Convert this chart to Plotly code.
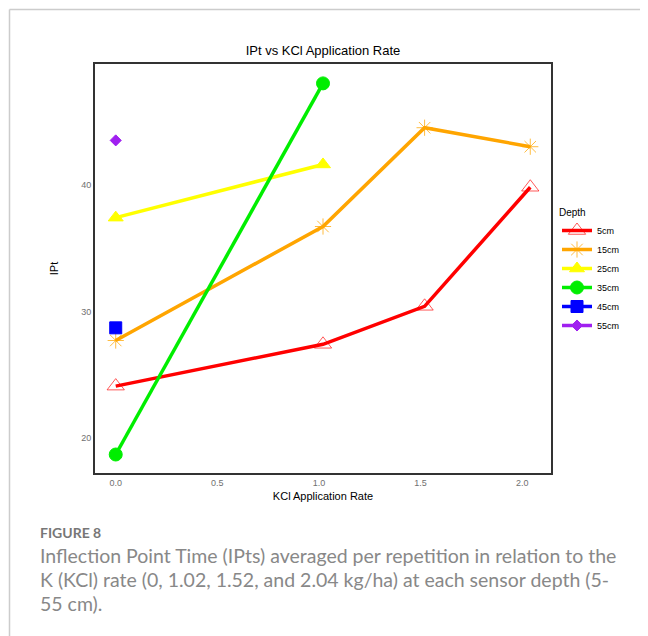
import plotly.graph_objects as go

# ---- data ----
depths = ["5cm", "15cm", "25cm", "35cm", "45cm", "55cm"]
x_5 = [0.0, 1.02, 1.52, 2.04]
y_5 = [24.1, 27.4, 30.4, 39.8]
x_15 = [0.0, 1.02, 1.52, 2.04]
y_15 = [27.7, 36.7, 44.5, 43.0]
x_25 = [0.0, 1.02]
y_25 = [37.4, 41.6]
x_35 = [0.0, 1.02]
y_35 = [18.7, 48.0]
x_45 = [0.0]
y_45 = [28.7]
x_55 = [0.0]
y_55 = [43.5]

xs = [x_5, x_15, x_25, x_35, x_45, x_55]
ys = [y_5, y_15, y_25, y_35, y_45, y_55]
colors = ["#FF0000", "#FFA500", "#FFFF00", "#00EE00", "#0000FF", "#A020F0"]
mcolors = ["rgba(255,0,0,0.65)", "rgba(255,165,0,0.75)", "#FFFF00", "#00EE00", "#0000FF", "#A020F0"]
symbols = ["triangle-up-open", "asterisk-open", "triangle-up", "circle", "square", "diamond"]
msizes = [15, 13.5, 13, 13, 12, 8.5]

caption_lines = [
    "Inflection Point Time (IPts) averaged per repetition in relation to the",
    "K (KCl) rate (0, 1.02, 1.52, and 2.04 kg/ha) at each sensor depth (5-",
    "55 cm).",
]

# layout geometry (the page body adds an 8px offset)
W, H = 640, 628
L, R, T, B = 87, 97, 56, 163
PW, PH = W - L - R, H - T - B


def px(x):
    return (x - 8 - L) / PW


def py(y):
    return (H - B - (y - 8)) / PH


fig = go.Figure()
for d, x, y, c, mc, s, ms in zip(depths, xs, ys, colors, mcolors, symbols, msizes):
    fig.add_trace(go.Scatter(
        x=x, y=y, name=d, mode="lines+markers",
        line=dict(color=c, width=3.5),
        marker=dict(symbol=s, size=ms, color=mc,
                    line=dict(color=mc, width=1)),
    ))

fig.update_layout(
    width=W, height=H,
    margin=dict(l=L, r=R, t=T, b=B),
    paper_bgcolor="white", plot_bgcolor="white",
    font=dict(family="Liberation Sans, Arial", color="#000"),
    title=dict(text="IPt vs KCl Application Rate", x=0.5, xanchor="center",
               xref="paper", y=1 - 42 / H, yanchor="middle",
               font=dict(size=13, color="#000")),
    showlegend=True,
    legend=dict(title=dict(text="Depth", font=dict(size=10)),
                x=px(557), xanchor="left", y=py(203), yanchor="top",
                font=dict(size=9), itemsizing="trace", itemwidth=30,
                bgcolor="rgba(0,0,0,0)", tracegroupgap=0),
)
fig.update_xaxes(range=[-0.102, 2.142], tickvals=[0, 0.5, 1, 1.5, 2],
                 ticktext=["0.0", "0.5", "1.0", "1.5", "2.0"],
                 showgrid=False, zeroline=False, showline=True, mirror=True,
                 linecolor="#333", linewidth=2, ticks="",
                 tickfont=dict(size=9, color="#707070"),
                 title=dict(text="KCl Application Rate", font=dict(size=11), standoff=6))
fig.update_yaxes(range=[17.24, 49.53], tickvals=[20, 30, 40],
                 showgrid=False, zeroline=False, showline=True, mirror=True,
                 linecolor="#333", linewidth=2, ticks="",
                 tickfont=dict(size=9, color="#707070"),
                 title=dict(text="IPt", font=dict(size=11), standoff=20))

# page frame lines
fig.add_shape(type="line", xref="paper", yref="paper", x0=px(9.5), x1=px(660),
              y0=py(9.5), y1=py(9.5),
              line=dict(color="#cccccc", width=1.5), layer="above")
fig.add_shape(type="line", xref="paper", yref="paper", x0=px(9.5), x1=px(9.5),
              y0=py(9.5), y1=py(650),
              line=dict(color="#cccccc", width=1.5), layer="above")

# caption
fig.add_annotation(text="<b>FIGURE 8</b>", xref="paper", yref="paper",
                   x=px(38), xanchor="left", y=py(532), yanchor="middle",
                   showarrow=False, font=dict(family="Lato, Open Sans", size=14, color="#777"))
for i, line in enumerate(caption_lines):
    fig.add_annotation(text=line, xref="paper", yref="paper",
                       x=px(38), xanchor="left", y=py(555 + 24 * i), yanchor="middle",
                       showarrow=False, font=dict(family="Lato, Open Sans", size=19.5, color="#888"))

fig.write_html("out.html")
